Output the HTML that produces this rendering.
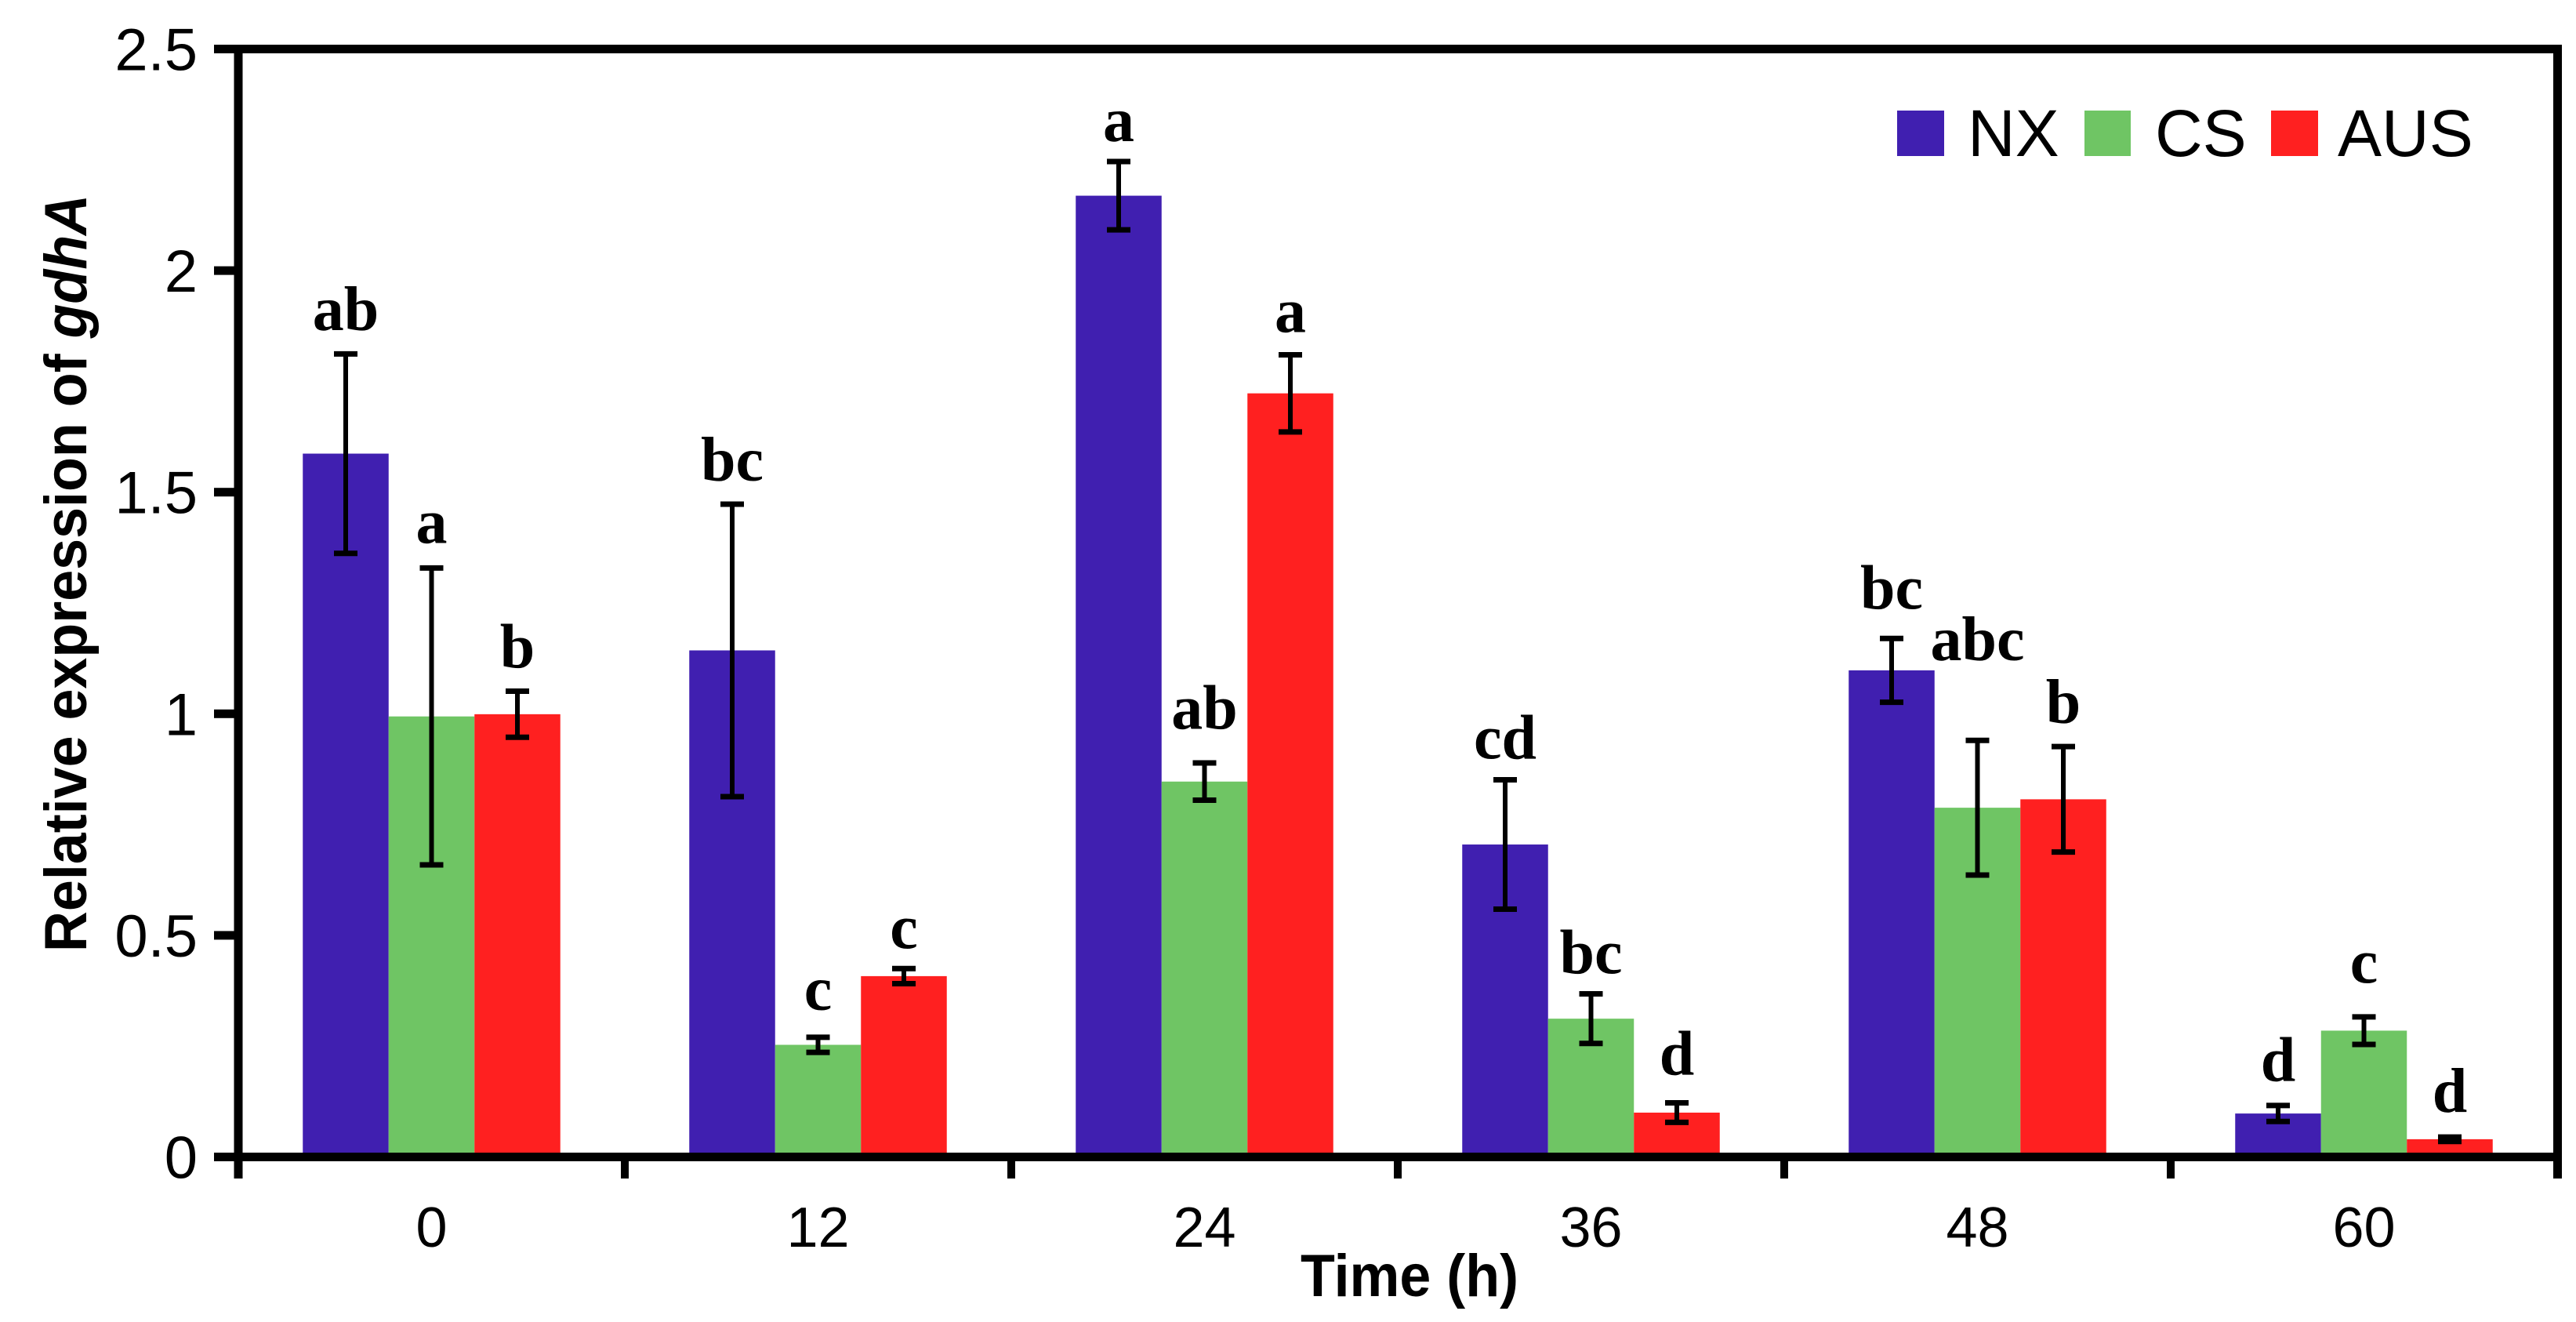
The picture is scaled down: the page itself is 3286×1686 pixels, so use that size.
<!DOCTYPE html>
<html><head><meta charset="utf-8"><style>
html,body{margin:0;padding:0;background:#fff;}
svg{display:block;}
</style></head>
<body>
<svg id="chart" width="3286" height="1686" viewBox="0 0 3286 1686" xmlns="http://www.w3.org/2000/svg">
  <rect x="0" y="0" width="3286" height="1686" fill="#fff"/>
  <g id="bars"></g>
  <g id="errs"></g>
  <g id="sig"></g>
  <g id="axes"></g>
  <text transform="translate(110,731) rotate(-90)" text-anchor="middle" font-family="Liberation Sans, sans-serif" font-weight="bold" font-size="76" textLength="966" lengthAdjust="spacingAndGlyphs">Relative expression of  <tspan font-style="italic">gdhA</tspan></text>
  <text x="1798" y="1653" text-anchor="middle" font-family="Liberation Sans, sans-serif" font-weight="bold" font-size="76" textLength="278" lengthAdjust="spacingAndGlyphs">Time (h)</text>
  <g font-family="Liberation Sans, sans-serif" font-size="84">
    <rect x="2420" y="141" width="60" height="58" fill="#401fb0"/>
    <text x="2510" y="199">NX</text>
    <rect x="2659" y="141" width="59" height="58" fill="#6fc564"/>
    <text x="2749" y="199">CS</text>
    <rect x="2897" y="141" width="60" height="58" fill="#ff2020"/>
    <text x="2982" y="199">AUS</text>
  </g>
</svg>
<script>
const categories = ["0", "12", "24", "36", "48", "60"];
const seriesNames = ["NX", "CS", "AUS"];
const nxValues = [1.587, 1.143, 2.169, 0.705, 1.098, 0.098];
const csValues = [0.994, 0.253, 0.847, 0.312, 0.788, 0.285];
const ausValues = [0.999, 0.408, 1.723, 0.100, 0.807, 0.040];
const nxErr = [0.225, 0.33, 0.077, 0.146, 0.072, 0.018];
const csErr = [0.335, 0.017, 0.042, 0.056, 0.152, 0.031];
const ausErr = [0.052, 0.017, 0.087, 0.022, 0.119, 0.005];
const nxLetters = ["ab", "bc", "a", "cd", "bc", "d"];
const csLetters = ["a", "c", "ab", "bc", "abc", "c"];
const ausLetters = ["b", "c", "a", "d", "b", "d"];
const nxLetterY = [1.866, 1.526, 2.292, 0.899, 1.237, 0.172];
const csLetterY = [1.385, 0.332, 0.966, 0.414, 1.121, 0.393];
const ausLetterY = [1.104, 0.471, 1.861, 0.186, 0.979, 0.102];
const yTicks = [0, 0.5, 1, 1.5, 2, 2.5];
const yTickLabels = ["0", "0.5", "1", "1.5", "2", "2.5"];

const NS = "http://www.w3.org/2000/svg";
const X0 = 304, X1 = 3262, Y0 = 1475.5, YTOP = 62.5, YMAX = 2.5;
const groupW = (X1 - X0) / categories.length;
const barW = 109.5;
const colors = ["#401fb0", "#6fc564", "#ff2020"];
function yScale(v) { return Y0 - (v / YMAX) * (Y0 - YTOP); }
function groupCenter(i) { return X0 + groupW * (i + 0.5); }
function barX(i, s) { return groupCenter(i) + (s - 1.5) * barW; }
function mk(tag, attrs, parent) {
  const el = document.createElementNS(NS, tag);
  for (const k in attrs) el.setAttribute(k, attrs[k]);
  parent.appendChild(el);
  return el;
}
const values = [nxValues, csValues, ausValues];
const errs = [nxErr, csErr, ausErr];
const letters = [nxLetters, csLetters, ausLetters];
const letterY = [nxLetterY, csLetterY, ausLetterY];
const gb = document.getElementById("bars");
const ge = document.getElementById("errs");
const gs = document.getElementById("sig");
const ga = document.getElementById("axes");

for (let s = 0; s < 3; s++) {
  for (let i = 0; i < categories.length; i++) {
    const v = values[s][i];
    const r = mk("rect", {x: barX(i, s), y: yScale(v), width: barW, height: Y0 - yScale(v), fill: colors[s]}, gb);
    
    
    const cx = barX(i, s) + barW / 2;
    const e = errs[s][i];
    const eg = mk("g", {stroke: "#000", "stroke-width": 6, fill: "none"}, ge);
    
    
    mk("line", {x1: cx, x2: cx, y1: yScale(v + e), y2: yScale(v - e)}, eg);
    mk("line", {x1: cx - 15, x2: cx + 15, y1: yScale(v + e), y2: yScale(v + e), "stroke-width": 7}, eg);
    mk("line", {x1: cx - 15, x2: cx + 15, y1: yScale(v - e), y2: yScale(v - e), "stroke-width": 7}, eg);
    const t = mk("text", {x: cx, y: yScale(letterY[s][i]), "text-anchor": "middle", "font-family": "Liberation Serif, serif", "font-weight": "bold", "font-size": 80}, gs);
    t.textContent = letters[s][i];
    
    
  }
}

const topBorder = mk("rect", {x: 273, y: 57, width: 3268 - 273, height: 11, fill: "#000"}, ga);


const leftAxis = mk("rect", {x: 298.5, y: 57, width: 11, height: 1503 - 57, fill: "#000"}, ga);


const rightBorder = mk("rect", {x: 3257, y: 57, width: 11, height: 1503 - 57, fill: "#000"}, ga);


const xAxisLine = mk("rect", {x: 273, y: 1470, width: 3268 - 273, height: 11, fill: "#000"}, ga);



for (let k = 0; k < yTicks.length; k++) {
  const y = yScale(yTicks[k]);
  const tk = mk("rect", {x: 273, y: y - 5.5, width: 30, height: 11, fill: "#000"}, ga);
  
  
  const tl = mk("text", {x: 252, y: y + 27, "text-anchor": "end", "font-family": "Liberation Sans, sans-serif", "font-size": 76}, ga);
  tl.textContent = yTickLabels[k];
  
  
}
for (let i = 1; i < categories.length; i++) {
  const x = X0 + groupW * i;
  const tk = mk("rect", {x: x - 5, y: 1475, width: 10, height: 28, fill: "#000"}, ga);
  
  
}
for (let i = 0; i < categories.length; i++) {
  const tl = mk("text", {x: groupCenter(i), y: 1590, "text-anchor": "middle", "font-family": "Liberation Sans, sans-serif", "font-size": 72}, ga);
  tl.textContent = categories[i];
  
  
}
</script>
</body></html>
